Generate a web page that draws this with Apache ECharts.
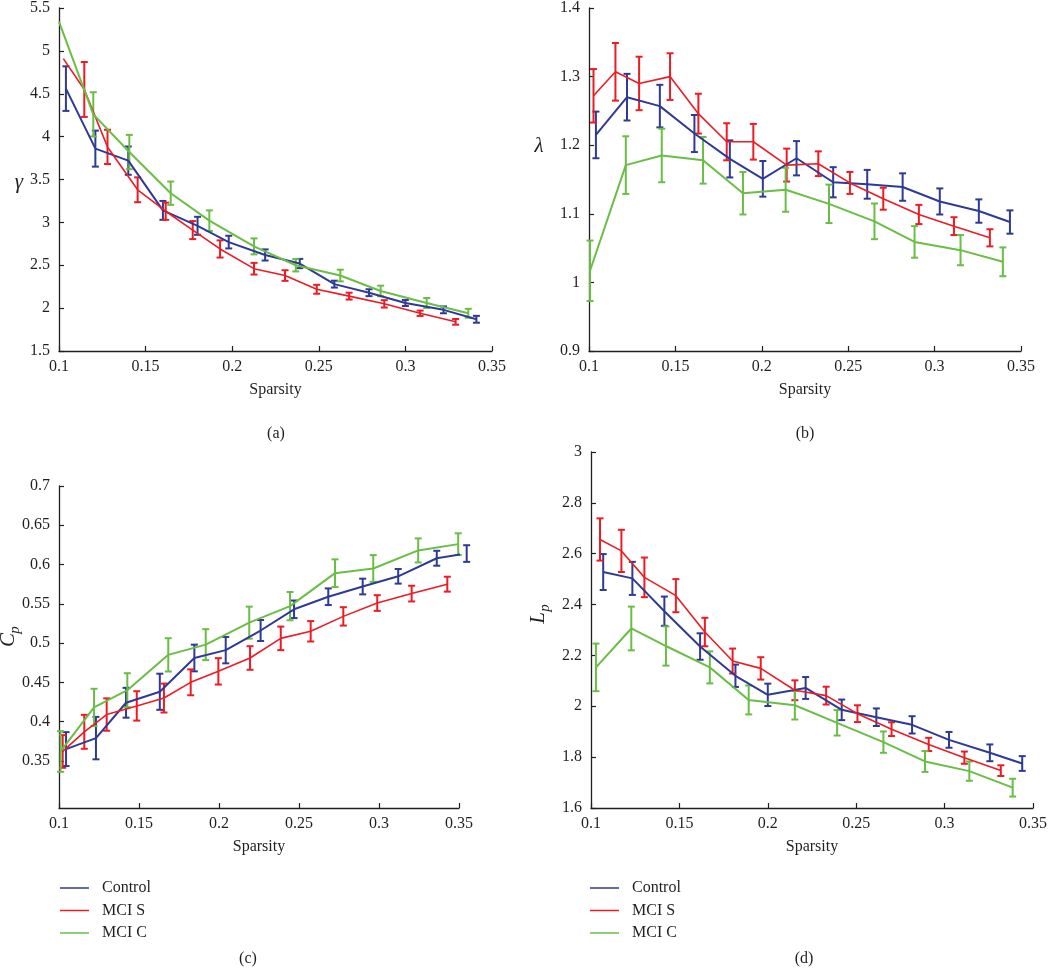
<!DOCTYPE html>
<html>
<head>
<meta charset="utf-8">
<script src="https://cdn.jsdelivr.net/npm/echarts@6/dist/echarts.min.js"></script>
<style>html,body{margin:0;background:#fff}#chart{width:1050px;height:968px}</style>
</head>
<body>
<div id="chart"></div>
<script>
const groups = ["Control", "MCI S", "MCI C"];
const colors = ["#2e3a94", "#ec1c24", "#6abd45"];
const lineWidths = [2, 1.6, 2];

// (a) gamma
const gammaControlX = [0.104, 0.121, 0.140, 0.160, 0.180, 0.198, 0.219, 0.239, 0.259, 0.279, 0.300, 0.322, 0.341];
const gammaControlY = [4.56, 3.86, 3.72, 3.14, 2.96, 2.77, 2.62, 2.52, 2.28, 2.18, 2.06, 1.98, 1.87];
const gammaControlErr = [0.26, 0.21, 0.165, 0.11, 0.105, 0.074, 0.065, 0.054, 0.04, 0.04, 0.035, 0.04, 0.04];
const gammaMciSX = [0.1025, 0.1146, 0.128, 0.1454, 0.1616, 0.1772, 0.193, 0.2126, 0.2305, 0.2488, 0.2675, 0.2878, 0.3085, 0.329];
const gammaMciSY = [4.91, 4.55, 3.88, 3.38, 3.13, 2.91, 2.69, 2.46, 2.38, 2.22, 2.14, 2.05, 1.94, 1.84];
const gammaMciSErr = [0, 0.32, 0.2, 0.145, 0.1, 0.105, 0.1, 0.068, 0.062, 0.052, 0.04, 0.043, 0.031, 0.033];
const gammaMciCX = [0.100, 0.1198, 0.1406, 0.1645, 0.1868, 0.2126, 0.2367, 0.2624, 0.2857, 0.3123, 0.3363];
const gammaMciCY = [5.34, 4.26, 3.82, 3.34, 3.02, 2.72, 2.50, 2.38, 2.20, 2.06, 1.94];
const gammaMciCErr = [0, 0.258, 0.2, 0.136, 0.12, 0.093, 0.072, 0.068, 0.062, 0.058, 0.052];

// (b) lambda
const lambdaControlX = [0.104, 0.122, 0.141, 0.161, 0.1815, 0.2006, 0.2201, 0.2413, 0.261, 0.2815, 0.303, 0.3256, 0.3436];
const lambdaControlY = [1.215, 1.270, 1.257, 1.217, 1.180, 1.151, 1.181, 1.146, 1.143, 1.139, 1.118, 1.104, 1.088];
const lambdaControlErr = [0.034, 0.034, 0.031, 0.027, 0.027, 0.026, 0.025, 0.022, 0.021, 0.02, 0.019, 0.017, 0.017];
const lambdaMciSX = [0.1026, 0.1153, 0.129, 0.1469, 0.1633, 0.1797, 0.1951, 0.2144, 0.2327, 0.251, 0.2703, 0.2909, 0.3112, 0.332];
const lambdaMciSY = [1.272, 1.307, 1.290, 1.300, 1.246, 1.205, 1.205, 1.171, 1.173, 1.145, 1.122, 1.099, 1.082, 1.065];
const lambdaMciSErr = [0.039, 0.042, 0.039, 0.034, 0.029, 0.027, 0.026, 0.024, 0.018, 0.016, 0.016, 0.014, 0.013, 0.0125];
const lambdaMciCX = [0.1006, 0.1213, 0.1421, 0.166, 0.1891, 0.2138, 0.2389, 0.2652, 0.2884, 0.315, 0.3395];
const lambdaMciCY = [1.017, 1.171, 1.185, 1.178, 1.130, 1.135, 1.1145, 1.089, 1.059, 1.047, 1.030];
const lambdaMciCErr = [0.044, 0.042, 0.039, 0.034, 0.031, 0.032, 0.028, 0.026, 0.023, 0.022, 0.021];

// (c) Cp
const cpControlX = [0.1044, 0.1231, 0.1419, 0.163, 0.1846, 0.2042, 0.226, 0.2469, 0.2683, 0.2898, 0.312, 0.3361, 0.3548];
const cpControlY = [0.365, 0.379, 0.424, 0.438, 0.481, 0.491, 0.516, 0.543, 0.559, 0.572, 0.585, 0.608, 0.614];
const cpControlErr = [0.0216, 0.027, 0.019, 0.023, 0.017, 0.0168, 0.0134, 0.0112, 0.0106, 0.01, 0.0093, 0.0095, 0.0106];
const cpMciSX = [0.1023, 0.1158, 0.1298, 0.1486, 0.1656, 0.1823, 0.1996, 0.2194, 0.2386, 0.2573, 0.2777, 0.2989, 0.3204, 0.3427];
const cpMciSY = [0.362, 0.387, 0.409, 0.420, 0.430, 0.450, 0.464, 0.481, 0.506, 0.515, 0.534, 0.551, 0.563, 0.575];
const cpMciSErr = [0.0208, 0.0216, 0.0206, 0.0187, 0.0184, 0.0165, 0.0168, 0.015, 0.015, 0.013, 0.0117, 0.01, 0.01, 0.0095];
const cpMciCX = [0.101, 0.1219, 0.1427, 0.1683, 0.1917, 0.2189, 0.2444, 0.2725, 0.2964, 0.3245, 0.3495];
const cpMciCY = [0.362, 0.418, 0.440, 0.485, 0.498, 0.526, 0.547, 0.589, 0.595, 0.618, 0.626];
const cpMciCErr = [0.0259, 0.0238, 0.0216, 0.0212, 0.0197, 0.0204, 0.018, 0.0176, 0.017, 0.0153, 0.0138];
const cpTicks = [0.35, 0.4, 0.45, 0.5, 0.55, 0.6, 0.65, 0.7];

// (d) Lp
const lpControlX = [0.1069, 0.1234, 0.1415, 0.1617, 0.1817, 0.2, 0.2214, 0.2418, 0.2614, 0.2816, 0.3025, 0.3256, 0.3439];
const lpControlY = [2.528, 2.503, 2.374, 2.235, 2.12, 2.045, 2.072, 1.986, 1.957, 1.927, 1.868, 1.817, 1.775];
const lpControlErr = [0.0706, 0.065, 0.0575, 0.052, 0.044, 0.044, 0.043, 0.0405, 0.0346, 0.034, 0.031, 0.033, 0.029];
const lpMciSX = [0.1051, 0.1172, 0.1302, 0.148, 0.1644, 0.1801, 0.196, 0.2153, 0.233, 0.2507, 0.27, 0.291, 0.3112, 0.3318];
const lpMciSY = [2.656, 2.611, 2.507, 2.435, 2.292, 2.178, 2.149, 2.063, 2.042, 1.971, 1.91, 1.85, 1.798, 1.747];
const lpMciSErr = [0.083, 0.083, 0.078, 0.065, 0.056, 0.049, 0.044, 0.039, 0.035, 0.033, 0.027, 0.026, 0.024, 0.021];
const lpMciCX = [0.1028, 0.1228, 0.1424, 0.1672, 0.1892, 0.2153, 0.2392, 0.2654, 0.2889, 0.314, 0.3385];
const lpMciCY = [2.153, 2.306, 2.237, 2.153, 2.025, 2.004, 1.935, 1.859, 1.783, 1.745, 1.68];
const lpMciCErr = [0.0935, 0.086, 0.077, 0.063, 0.057, 0.056, 0.05, 0.042, 0.041, 0.038, 0.035];

const ink = "#231f20";
const serif = "Liberation Serif";

const panels = [
  { grid: { left: 59, top: 7, width: 433, height: 344 }, yMin: 1.5, yMax: 5.5, yInterval: 0.5,
    data: [[gammaControlX, gammaControlY, gammaControlErr], [gammaMciSX, gammaMciSY, gammaMciSErr], [gammaMciCX, gammaMciCY, gammaMciCErr]] },
  { grid: { left: 589, top: 7, width: 432, height: 344 }, yMin: 0.9, yMax: 1.4, yInterval: 0.1,
    data: [[lambdaControlX, lambdaControlY, lambdaControlErr], [lambdaMciSX, lambdaMciSY, lambdaMciSErr], [lambdaMciCX, lambdaMciCY, lambdaMciCErr]] },
  { grid: { left: 59, top: 486, width: 400, height: 322 }, yMin: 0.29, yMax: 0.7, yTicks: cpTicks,
    data: [[cpControlX, cpControlY, cpControlErr], [cpMciSX, cpMciSY, cpMciSErr], [cpMciCX, cpMciCY, cpMciCErr]] },
  { grid: { left: 591, top: 452, width: 446, height: 356 }, yMin: 1.6, yMax: 3, yInterval: 0.2,
    data: [[lpControlX, lpControlY, lpControlErr], [lpMciSX, lpMciSY, lpMciSErr], [lpMciCX, lpMciCY, lpMciCErr]] }
];

// vertical bar with a cap at each end
function errorBars(params, api) {
  const err = api.value(2);
  if (!err) return;
  const x = api.value(0), y = api.value(1);
  const top = api.coord([x, y + err]);
  const bot = api.coord([x, y - err]);
  const c = 3.5;
  const style = { stroke: api.visual("color"), lineWidth: 2 };
  return {
    type: "group",
    children: [
      { type: "line", shape: { x1: top[0], y1: top[1], x2: bot[0], y2: bot[1] }, style: style },
      { type: "line", shape: { x1: top[0] - c, y1: top[1], x2: top[0] + c, y2: top[1] }, style: style },
      { type: "line", shape: { x1: bot[0] - c, y1: bot[1], x2: bot[0] + c, y2: bot[1] }, style: style }
    ]
  };
}

const axisLine = { show: true, lineStyle: { color: ink, width: 1.3 } };
const axisTick = { show: true, inside: true, length: 5, lineStyle: { color: ink, width: 1.2 } };
const labelStyle = { color: ink, fontFamily: serif, fontSize: 16 };

const grid = [], xAxis = [], yAxis = [], series = [];
panels.forEach((p, i) => {
  grid.push(p.grid);
  xAxis.push({
    gridIndex: i, type: "value", min: 0.1, max: 0.35, interval: 0.05,
    name: "Sparsity", nameLocation: "middle", nameGap: 31,
    nameTextStyle: { color: ink, fontFamily: serif, fontSize: 16 },
    axisLine: axisLine, axisTick: axisTick, splitLine: { show: false },
    axisLabel: Object.assign({ margin: 8 }, labelStyle)
  });
  const y = {
    gridIndex: i, type: "value", min: p.yMin, max: p.yMax,
    axisLine: axisLine, splitLine: { show: false },
    axisTick: Object.assign({}, axisTick),
    axisLabel: Object.assign({ margin: 9 }, labelStyle)
  };
  if (p.yTicks) {
    y.axisTick.customValues = p.yTicks;
    y.axisLabel.customValues = p.yTicks;
  } else {
    y.interval = p.yInterval;
  }
  yAxis.push(y);
  p.data.forEach((d, g) => {
    series.push({
      type: "line", name: groups[g], xAxisIndex: i, yAxisIndex: i,
      data: d[0].map((x, k) => [x, d[1][k]]),
      symbol: "none", clip: false,
      lineStyle: { color: colors[g], width: lineWidths[g] }, itemStyle: { color: colors[g] }
    });
  });
  p.data.forEach((d, g) => {
    series.push({
      type: "custom", name: groups[g] + " error", xAxisIndex: i, yAxisIndex: i,
      data: d[0].map((x, k) => [x, d[1][k], d[2][k]]),
      encode: { x: 0, y: 1 },
      renderItem: errorBars,
      itemStyle: { color: colors[g] }
    });
  });
});

const legendBase = {
  orient: "vertical", top: 880, padding: 0,
  icon: "rect", itemWidth: 29, itemHeight: 1.5, itemGap: 6.5,
  data: groups, selectedMode: false,
  textStyle: { color: ink, fontFamily: serif, fontSize: 16, lineHeight: 16, padding: [0, 0, 0, 8] }
};

function axisName(x, y, main, sub, rotated) {
  const children = [
    { type: "text", x: 0, y: 0, style: { text: main, font: 'italic 21px "Liberation Serif"', fill: ink, align: "center", verticalAlign: "middle" } }
  ];
  if (sub) {
    children.push({ type: "text", x: 10, y: 7, style: { text: sub, font: 'italic 15px "Liberation Serif"', fill: ink, align: "center", verticalAlign: "middle" } });
  }
  return { type: "group", x: x, y: y, rotation: rotated ? Math.PI / 2 : 0, children: children };
}

function panelLabel(x, y, t) {
  return { type: "text", x: x, y: y, style: { text: t, font: '16px "Liberation Serif"', fill: ink, align: "center", verticalAlign: "middle" } };
}

const chart = echarts.init(document.getElementById("chart"));
chart.setOption({
  animation: false,
  backgroundColor: "#fff",
  grid: grid,
  xAxis: xAxis,
  yAxis: yAxis,
  series: series,
  legend: [
    Object.assign({ left: 60 }, legendBase),
    Object.assign({ left: 590 }, legendBase)
  ],
  graphic: [
    axisName(19, 182, "γ"),
    axisName(539, 146, "λ"),
    axisName(8, 640, "C", "p", true),
    axisName(538, 618, "L", "p", true),
    panelLabel(276, 434, "(a)"),
    panelLabel(805, 434, "(b)"),
    panelLabel(248, 959, "(c)"),
    panelLabel(804, 959, "(d)")
  ]
});
</script>
</body>
</html>
